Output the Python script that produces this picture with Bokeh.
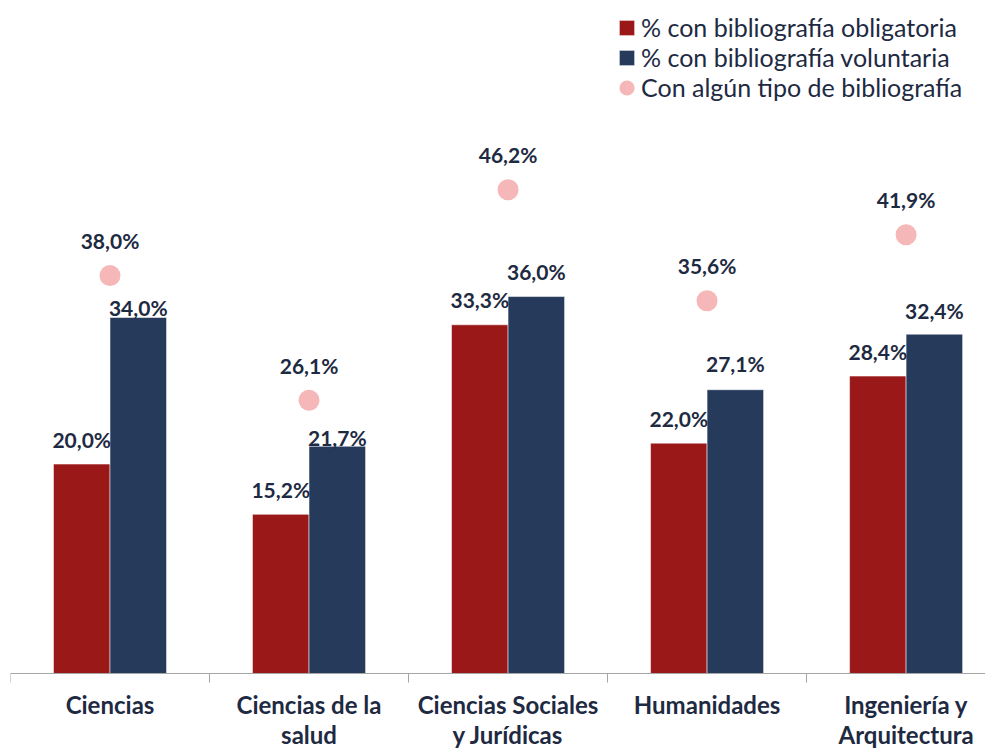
from bokeh.plotting import figure
from bokeh.models import Range1d, FixedTicker, Legend, LegendItem, ColumnDataSource, LinearAxis
from bokeh.core.properties import value
from bokeh.embed import file_html
from bokeh.resources import INLINE

# ---- data ----
categories = ["Ciencias", "Ciencias de la salud", "Ciencias Sociales y Jurídicas",
              "Humanidades", "Ingeniería y Arquitectura"]
category_labels = ["Ciencias", "Ciencias de la\nsalud", "Ciencias Sociales\ny Jurídicas",
                   "Humanidades", "Ingeniería y\nArquitectura"]
obligatoria = [20.0, 15.2, 33.3, 22.0, 28.4]
voluntaria = [34.0, 21.7, 36.0, 27.1, 32.4]
alguna = [38.0, 26.1, 46.2, 35.6, 41.9]
series_names = ["% con bibliografía obligatoria", "% con bibliografía voluntaria",
                "Con algún tipo de bibliografía"]

# ---- style ----
RED = "#9b1818"
BLUE = "#263a5c"
PINK = "#f5b7b7"
TEXT = "#1e2a42"
FONT = "Lato"
BAR_W = 0.284
blue_label_offset = [-10, -9, -25, -26, -24]

n = len(categories)
centers = [i + 0.5 for i in range(n)]
red_x = [c - BAR_W / 2 for c in centers]
blue_x = [c + BAR_W / 2 for c in centers]

def fmt(v):
    return f"{v:.1f}".replace(".", ",") + "%"

src = ColumnDataSource(dict(
    red_x=red_x, blue_x=blue_x, cx=centers,
    obl=obligatoria, vol=voluntaria, alg=alguna,
    obl_l=[fmt(v) for v in obligatoria],
    vol_l=[fmt(v) for v in voluntaria],
    alg_l=[fmt(v) for v in alguna],
    vol_off=blue_label_offset,
))

p = figure(width=985, height=750, output_backend="svg", toolbar_location=None,
           x_range=Range1d(0, 4.899), y_range=Range1d(-7.35, 63.6),
           x_axis_location=None, y_axis_location=None,
           min_border_left=10, min_border_right=0, min_border_top=7, min_border_bottom=0)
p.outline_line_color = None
p.grid.grid_line_color = None
p.background_fill_color = "white"

bar_line = dict(line_color="white", line_alpha=0.5, line_width=1)
r_red = p.vbar(x="red_x", top="obl", width=BAR_W, source=src, fill_color=RED, **bar_line)
r_blue = p.vbar(x="blue_x", top="vol", width=BAR_W, source=src, fill_color=BLUE, **bar_line)
r_dot = p.ellipse(x="cx", y="alg", width=21, height=21, width_units="screen", height_units="screen",
                  source=src, fill_color=PINK, line_color=None)

txt = dict(text_font=value(FONT), text_font_style="bold", text_font_size="21px",
           text_color=TEXT, text_align="center", text_baseline="middle", source=src)
p.text(x="red_x", y="obl", text="obl_l", y_offset=-25, **txt)
p.text(x="blue_x", y="vol", text="vol_l", y_offset="vol_off", **txt)
p.text(x="cx", y="alg", text="alg_l", y_offset=-35, **txt)

# x axis drawn at y = 0
xaxis = LinearAxis(ticker=FixedTicker(ticks=centers, minor_ticks=[float(i) for i in range(n + 1)]),
                   major_label_overrides={c: lab for c, lab in zip(centers, category_labels)},
                   fixed_location=0)
xaxis.axis_line_color = "#a6a6a6"
xaxis.axis_line_width = 1
xaxis.major_tick_out = 0
xaxis.major_tick_in = 0
xaxis.minor_tick_out = 9
xaxis.minor_tick_in = 0
xaxis.minor_tick_line_color = "#a6a6a6"
xaxis.major_label_standoff = 7
xaxis.major_label_text_font = FONT
xaxis.major_label_text_font_style = "bold"
xaxis.major_label_text_font_size = "24px"
xaxis.major_label_text_color = TEXT
xaxis.major_label_text_line_height = 1.05
p.add_layout(xaxis, "below")

legend = Legend(items=[
    LegendItem(label=series_names[0], renderers=[r_red]),
    LegendItem(label=series_names[1], renderers=[r_blue]),
    LegendItem(label=series_names[2], renderers=[r_dot]),
], location=(607, 648))
legend.glyph_width = 19
legend.glyph_height = 19
legend.label_height = 30
legend.spacing = 0
legend.padding = 0
legend.label_standoff = 5
legend.label_text_font = FONT
legend.label_text_font_size = "25px"
legend.label_text_color = TEXT
legend.label_text_baseline = "middle"
legend.border_line_color = None
legend.background_fill_alpha = 0
p.add_layout(legend, "center")

open("out.html", "w").write(file_html(p, INLINE))
